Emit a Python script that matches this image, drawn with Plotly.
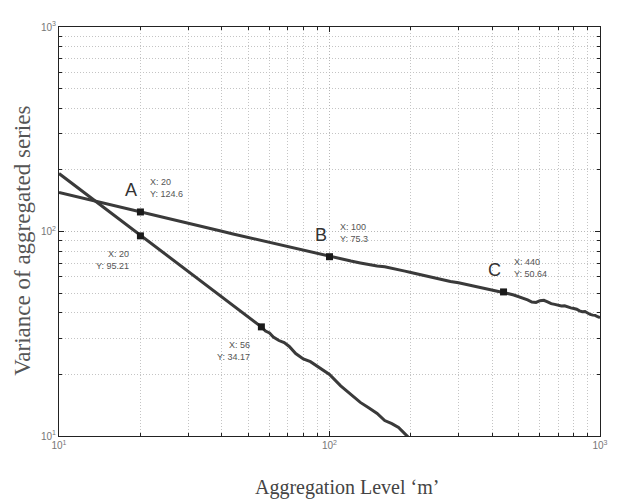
import plotly.graph_objects as go
import math

# ---- data ----
m_upper = [10, 11, 12, 13, 14, 15, 16, 17, 18, 19, 20, 22, 24, 26, 28, 30, 33, 36, 40, 44, 48, 52, 56, 60, 65,
           70, 75, 80, 85, 90, 95, 100, 110, 120, 130, 140, 150, 160, 170, 180, 190, 200, 215, 230, 245, 260,
           280, 300, 320, 340, 360, 380, 400, 420, 440, 460, 480, 500, 520, 540, 560, 580, 600, 620, 640, 660,
           680, 700, 720, 740, 760, 780, 800, 820, 840, 860, 880, 900, 920, 940, 960, 980, 1000]
var_upper = [155.0, 150.5, 146.4, 142.8, 139.4, 136.4, 133.7, 131.2, 128.8, 126.6, 124.6, 120.9, 117.7, 114.8,
             112.1, 109.7, 106.5, 103.7, 100.3, 97.3, 94.7, 92.4, 90.3, 88.3, 86.2, 84.2, 82.4, 80.7, 79.2,
             77.8, 76.5, 75.3, 73.4, 71.7, 70.2, 68.8, 67.8, 67.2, 66.2, 65.3, 64.0, 63.0, 61.6, 60.3, 59.2,
             58.3, 57.0, 56.1, 55.1, 54.2, 53.4, 52.6, 51.9, 51.3, 50.64, 49.6, 48.9, 48.0, 47.2, 46.3, 45.2,
             45.0, 45.9, 46.1, 45.3, 44.4, 44.0, 43.6, 43.2, 43.3, 42.6, 42.3, 42.0, 41.7, 40.9, 40.5, 40.6,
             39.9, 39.3, 39.0, 38.9, 38.3, 37.9]

m_lower = [10, 11, 12, 13, 14, 15, 16, 17, 18, 19, 20, 22, 24, 26, 28, 30, 33, 36, 40, 44, 48, 52, 56, 58, 60,
           62, 65, 68, 71, 75, 80, 85, 90, 95, 100, 110, 120, 130, 140, 150, 160, 170, 180, 190, 195]
var_lower = [192.0, 174.5, 159.8, 147.4, 136.7, 127.5, 119.4, 112.3, 106.0, 100.3, 95.21, 86.6, 79.4, 73.3,
             68.0, 63.5, 57.7, 52.9, 47.6, 43.3, 39.7, 36.6, 34.17, 32.6, 31.9, 30.5, 29.3, 28.6, 27.4, 25.3,
             23.8, 23.1, 22.0, 21.0, 20.0, 17.6, 15.9, 14.6, 13.7, 12.9, 11.9, 11.5, 11.0, 10.3, 9.9]

tip_x = [20, 20, 56, 100, 440]
tip_y = [124.6, 95.21, 34.17, 75.3, 50.64]
tip_letter = ["A", "", "", "B", "C"]
tip_side = ["right", "left", "left", "right", "right"]

major_ticks = [10, 100, 1000]
major_text = ["10<sup>1</sup>", "10<sup>2</sup>", "10<sup>3</sup>"]
minor_ticks = [d * 10 ** k for k in (1, 2) for d in range(2, 10)]

x_title = "Aggregation Level ‘m’"
y_title = "Variance of aggregated series"

line_col = "#3a3a3a"

fig = go.Figure()
fig.add_trace(go.Scatter(x=m_upper, y=var_upper, mode="lines",
                         line=dict(color=line_col, width=3), showlegend=False))
fig.add_trace(go.Scatter(x=m_lower, y=var_lower, mode="lines",
                         line=dict(color=line_col, width=3), showlegend=False))
fig.add_trace(go.Scatter(x=tip_x, y=tip_y, mode="markers",
                         marker=dict(symbol="square", size=7, color="#1a1a1a"), showlegend=False))

tip_font = dict(family="Liberation Sans, Arial", size=9, color="#555555")
for x, y, letter, side in zip(tip_x, tip_y, tip_letter, tip_side):
    lx, ly = math.log10(x), math.log10(y)
    txt = f"X: {x}<br>Y: {y}"
    if side == "right":
        fig.add_annotation(x=lx, y=ly, text=txt, showarrow=False, xanchor="left", yanchor="middle",
                           align="left", xshift=8, yshift=24, font=tip_font)
    else:
        fig.add_annotation(x=lx, y=ly, text=txt, showarrow=False, xanchor="right", yanchor="middle",
                           align="right", xshift=-9, yshift=-24, font=tip_font)
    if letter:
        fig.add_annotation(x=lx, y=ly, text=letter, showarrow=False, xanchor="center", yanchor="middle",
                           xshift=-9, yshift=22,
                           font=dict(family="Liberation Sans, Arial", size=18, color="#333333"))

# axis titles (placed as in the reference, slightly off-centre)
fig.add_annotation(xref="paper", yref="paper", x=0.532, y=-0.125, text=x_title, showarrow=False,
                   xanchor="center", yanchor="middle",
                   font=dict(family="Liberation Serif, Times New Roman", size=20, color="#444444"))
fig.add_annotation(xref="paper", yref="paper", x=-0.068, y=0.478, text=y_title, showarrow=False,
                   textangle=-90, xanchor="center", yanchor="middle",
                   font=dict(family="Liberation Serif, Times New Roman", size=23, color="#555555"))

axis_common = dict(
    type="log", showline=True, linecolor="#222222", linewidth=1, mirror="allticks",
    ticks="inside", ticklen=5, tickcolor="#222222", tickmode="array",
    tickvals=major_ticks, ticktext=major_text,
    tickfont=dict(family="Liberation Sans, Arial", size=10, color="#777777"),
    showgrid=True, gridcolor="#b8b8b8", griddash="1px,2px", gridwidth=1, zeroline=False,
    minor=dict(tickmode="array", tickvals=minor_ticks, ticks="inside", ticklen=3,
               tickcolor="#222222", showgrid=True, gridcolor="#c4c4c4", griddash="1px,2px", gridwidth=1),
)

fig.update_xaxes(range=[1, 3], **axis_common)
fig.update_yaxes(range=[1, 3], **axis_common)

fig.update_layout(width=620, height=500, margin=dict(l=59, r=14, t=27, b=64),
                  plot_bgcolor="white", paper_bgcolor="white")

fig.write_html("out.html")
